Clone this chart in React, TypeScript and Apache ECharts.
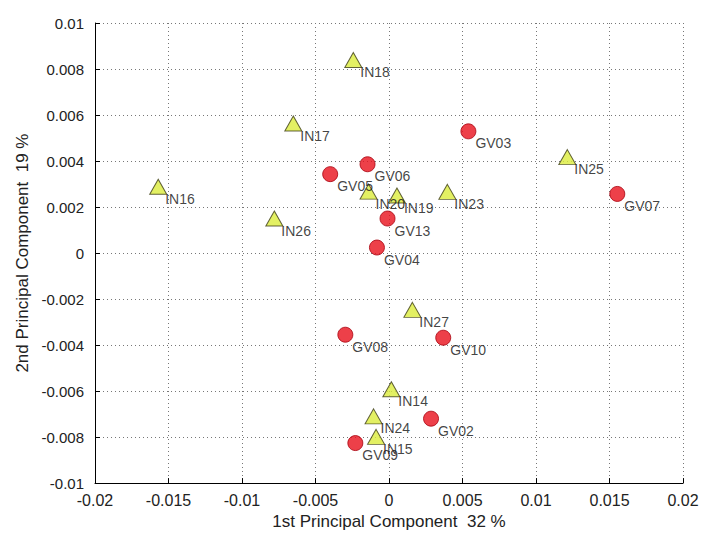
import React, { useEffect, useRef } from "react";
import * as echarts from "echarts";

const inNames = ["IN18", "IN17", "IN16", "IN26", "IN20", "IN19", "IN23", "IN25", "IN27", "IN14", "IN24", "IN15"];
const inX = [-0.00243, -0.00651, -0.0157, -0.0078, -0.00139, 0.00054, 0.00397, 0.01213, 0.00159, 0.00016, -0.00105, -0.00088];
const inY = [0.00839, 0.00563, 0.00288, 0.0015, 0.00267, 0.0025, 0.00266, 0.00417, -0.00247, -0.00592, -0.0071, -0.00799];

const gvNames = ["GV03", "GV06", "GV05", "GV07", "GV13", "GV04", "GV08", "GV10", "GV02", "GV09"];
const gvX = [0.0054, -0.00146, -0.004, 0.01553, -0.0001, -0.00082, -0.00297, 0.00369, 0.00286, -0.00229];
const gvY = [0.00529, 0.00386, 0.00343, 0.00257, 0.0015, 0.00024, -0.00355, -0.00368, -0.0072, -0.00826];

const xTitle = "1st Principal Component  32 %";
const yTitle = "2nd Principal Component  19 %";

const FONT = "Liberation Sans, Arial, sans-serif";

const fmt = (v: number) => String(Number(v.toFixed(4)));

export default function App() {
  const ref = useRef<HTMLDivElement>(null);
  useEffect(() => {
    if (!ref.current) return;
    const chart = echarts.init(ref.current, undefined, { renderer: "svg" });
    const label = {
      show: true,
      position: ["50%", "50%"],
      offset: [7, 5],
      align: "left",
      verticalAlign: "top",
      color: "#111",
      fontFamily: FONT,
      fontSize: 14,
      formatter: (p: any) => p.data[2],
    };
    chart.setOption({
      animation: false,
      backgroundColor: "#ffffff",
      grid: { left: 95, right: 19, top: 23, bottom: 48, containLabel: false },
      xAxis: {
        type: "value",
        min: -0.02,
        max: 0.02,
        interval: 0.005,
        name: xTitle,
        nameLocation: "middle",
        nameGap: 29,
        nameTextStyle: { fontFamily: FONT, fontSize: 17, color: "#222" },
        axisLine: { show: true, onZero: false, lineStyle: { color: "#000", width: 1 } },
        axisTick: { show: true, inside: true, length: 5, lineStyle: { color: "#000" } },
        axisLabel: { fontFamily: FONT, fontSize: 16, color: "#222", margin: 9, formatter: fmt },
        splitLine: { show: true, lineStyle: { type: [1, 3], color: "#777", width: 1 } },
      },
      yAxis: {
        type: "value",
        min: -0.01,
        max: 0.01,
        interval: 0.002,
        name: yTitle,
        nameLocation: "middle",
        nameGap: 64,
        nameTextStyle: { fontFamily: FONT, fontSize: 17, color: "#222" },
        axisLine: { show: true, onZero: false, lineStyle: { color: "#000", width: 1 } },
        axisTick: { show: true, inside: true, length: 5, lineStyle: { color: "#000" } },
        axisLabel: { fontFamily: FONT, fontSize: 15, color: "#222", margin: 11, formatter: fmt },
        splitLine: { show: true, lineStyle: { type: [1, 3], color: "#777", width: 1 } },
      },
      series: [
        {
          type: "scatter",
          name: "GV",
          symbol: "circle",
          symbolSize: 15,
          itemStyle: { color: "#e8101c", borderColor: "#a8000c", borderWidth: 1 },
          label,
          data: gvNames.map((n, i) => [gvX[i], gvY[i], n]),
        },
        {
          type: "scatter",
          name: "IN",
          symbol: "triangle",
          symbolSize: [17, 15],
          itemStyle: { color: "#dcec3c", borderColor: "#3c3c14", borderWidth: 1 },
          label,
          data: inNames.map((n, i) => [inX[i], inY[i], n]),
        },
      ],
    });
    return () => chart.dispose();
  }, []);
  return (
    <div
      ref={ref}
      style={{ position: "absolute", left: 0, top: 0, width: 702, height: 535, background: "#fff" }}
    />
  );
}
